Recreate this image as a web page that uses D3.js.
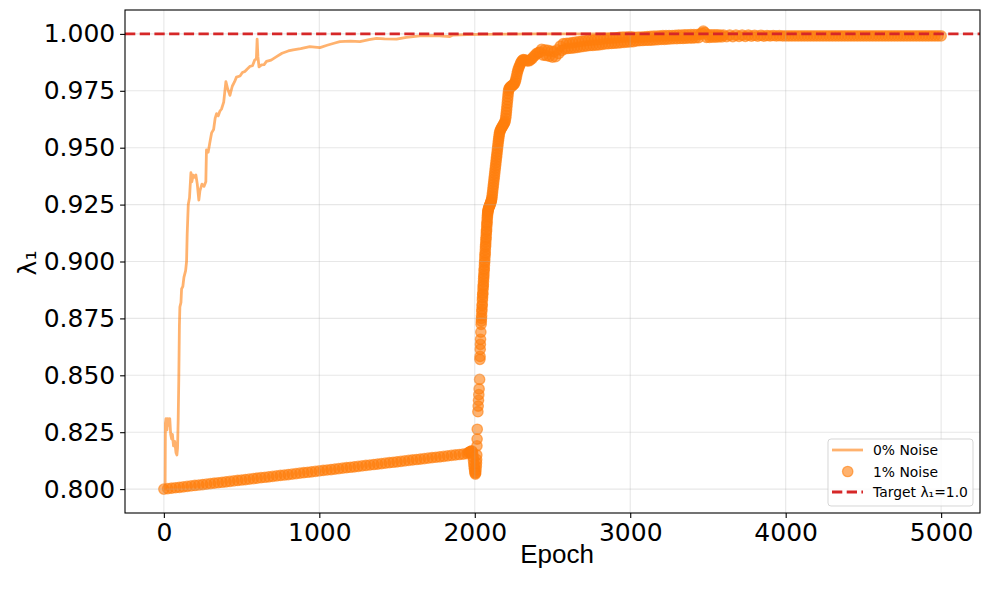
<!DOCTYPE html>
<html>
<head>
<meta charset="utf-8">
<script src="https://cdnjs.cloudflare.com/ajax/libs/d3/7.8.5/d3.min.js"></script>
<style>
    body { margin: 0; background: #ffffff; }
    .axis text { font-family: "DejaVu Sans", sans-serif; font-size: 25px; fill: #000; }
    .axis line { stroke: #000; stroke-width: 1.1px; }
    .grid line { stroke: #b0b0b0; stroke-opacity: 0.3; stroke-width: 1.1px; }
    .legend text { font-family: "DejaVu Sans", sans-serif; font-size: 13.9px; fill: #000; }
</style>
</head>
<body>
<div id="vis"></div>
<script>
// 0% noise run, drawn as a line
var cleanEpochs = [0, 8, 10, 14, 20, 25, 32, 38, 44, 50, 55, 62, 70, 78, 84, 88, 92, 96, 100, 103,
    110, 114, 122, 129, 140, 146, 150, 157, 165, 174, 180, 188, 196, 206, 215, 225, 232, 245, 258, 270,
    274, 285, 295, 307, 320, 330, 339, 350, 360, 371, 385, 399, 410, 425, 440, 455, 467, 490, 505, 521,
    535, 553, 570, 585, 595, 600, 605, 612, 628, 645, 660, 690, 725, 760, 800, 832, 880, 939, 970, 1004,
    1050, 1100, 1132, 1200, 1261, 1320, 1368, 1420, 1497, 1560, 1647, 1750, 1840, 1859, 1950, 2050, 2200, 2400, 5000];
var cleanLambda = [0.800, 0.800, 0.829, 0.831, 0.826, 0.831, 0.828, 0.831, 0.824, 0.822, 0.824, 0.819, 0.821, 0.816, 0.815, 0.818, 0.830, 0.848, 0.872, 0.880,
    0.882, 0.888, 0.889, 0.893, 0.896, 0.900, 0.912, 0.925, 0.928, 0.939, 0.935, 0.938, 0.937, 0.938, 0.934, 0.927, 0.931, 0.934, 0.933, 0.935,
    0.949, 0.948, 0.952, 0.9565, 0.958, 0.963, 0.965, 0.964, 0.966, 0.967, 0.970, 0.979, 0.976, 0.973, 0.977, 0.979, 0.981, 0.9815, 0.983, 0.9835,
    0.9845, 0.9857, 0.986, 0.9886, 0.989, 0.9977, 0.990, 0.9855, 0.9864, 0.9865, 0.9879, 0.9885, 0.990, 0.9915, 0.9925, 0.993, 0.9935, 0.9944, 0.9942, 0.994,
    0.995, 0.996, 0.9966, 0.9968, 0.9966, 0.9975, 0.998, 0.9978, 0.9977, 0.9985, 0.9991, 0.9993, 0.9988, 0.9995, 0.9997, 0.9998, 0.9999, 1.000, 1.000];

// 1% noise run, drawn as a scatter, read in three stretches
var noisyEarlyEpochs = d3.range(0, 1951, 25);
var noisyEarlyLambda = [
    0.8000, 0.8002, 0.8004, 0.8006, 0.8008, 0.8010, 0.8012, 0.8014, 0.8016, 0.8018,
    0.8020, 0.8022, 0.8024, 0.8026, 0.8028, 0.8030, 0.8032, 0.8034, 0.8036, 0.8038,
    0.8040, 0.8042, 0.8044, 0.8046, 0.8048, 0.8050, 0.8052, 0.8054, 0.8056, 0.8058,
    0.8060, 0.8062, 0.8064, 0.8066, 0.8068, 0.8070, 0.8072, 0.8074, 0.8076, 0.8078,
    0.8080, 0.8082, 0.8084, 0.8086, 0.8088, 0.8090, 0.8092, 0.8094, 0.8096, 0.8098,
    0.8100, 0.8102, 0.8104, 0.8106, 0.8108, 0.8110, 0.8112, 0.8114, 0.8116, 0.8118,
    0.8120, 0.8122, 0.8124, 0.8126, 0.8128, 0.8130, 0.8132, 0.8134, 0.8136, 0.8138,
    0.8140, 0.8142, 0.8144, 0.8146, 0.8148, 0.8150, 0.8152, 0.8154, 0.8156];

// the jump around epoch 2000
var noisyJumpEpochs = [1960, 1965, 1970, 1975, 1980, 1984, 1987, 1990, 1992, 1994,
        1996, 1998, 2000, 2002, 2004, 2006, 2008, 2010, 2011, 2012, 2013,
        2014, 2015, 2016, 2020, 2022, 2024, 2026, 2028, 2031, 2033, 2034, 2035, 2036, 2037, 2039]
    .concat(d3.range(2041, 2087), d3.range(2088, 2161, 2), [
        2164, 2168, 2172, 2176, 2180, 2184, 2188, 2192, 2196, 2199,
        2201, 2203, 2205, 2207, 2209, 2211, 2213, 2215, 2217, 2220,
        2224, 2228, 2232, 2236, 2240, 2245, 2250, 2255, 2260, 2264,
        2268, 2272, 2276, 2280, 2285, 2290, 2295, 2300, 2306, 2312,
        2320, 2330, 2340, 2350, 2360, 2370, 2380, 2390, 2400, 2410, 2420]);
var noisyJumpLambda = [
    0.8160, 0.8162, 0.8164, 0.8166, 0.8168, 0.8165, 0.8155, 0.8140, 0.8125, 0.8110,
    0.8098, 0.8088, 0.8078, 0.8070, 0.8066, 0.8072, 0.8085, 0.8100, 0.8115, 0.8130, 0.8150,
    0.8190, 0.8220, 0.8263, 0.8340, 0.8365, 0.8390, 0.8415, 0.8440, 0.8482, 0.8570, 0.8583, 0.8614, 0.8636, 0.8658, 0.8690,
    // 2041 - 2086
    0.8724, 0.8738, 0.8750, 0.8762, 0.8780, 0.8790, 0.8805, 0.8812, 0.8830, 0.8842,
    0.8855, 0.8862, 0.8878, 0.8890, 0.8898, 0.8912, 0.8925, 0.8935, 0.8946, 0.8960,
    0.8968, 0.8982, 0.8995, 0.9004, 0.9018, 0.9030, 0.9038, 0.9052, 0.9065, 0.9074,
    0.9086, 0.9098, 0.9106, 0.9120, 0.9132, 0.9140, 0.9154, 0.9165, 0.9172, 0.9185,
    0.9196, 0.9204, 0.9212, 0.9218, 0.9222, 0.9226,
    // 2088 - 2160
    0.9232, 0.9236, 0.9240, 0.9243, 0.9246, 0.9250, 0.9254, 0.9258, 0.9262, 0.9266,
    0.9272, 0.9280, 0.9290, 0.9302, 0.9314, 0.9326, 0.9338, 0.9350, 0.9362, 0.9374,
    0.9386, 0.9398, 0.9410, 0.9422, 0.9434, 0.9446, 0.9458, 0.9470, 0.9482, 0.9494,
    0.9506, 0.9518, 0.9530, 0.9540, 0.9550, 0.9560, 0.9568,
    // 2164 - 2420
    0.9576, 0.9582, 0.9587, 0.9591, 0.9596, 0.9601, 0.9606, 0.9611, 0.9618, 0.9630,
    0.9642, 0.9655, 0.9668, 0.9682, 0.9696, 0.9710, 0.9724, 0.9738, 0.9750, 0.9758,
    0.9763, 0.9766, 0.9768, 0.9770, 0.9772, 0.9775, 0.9778, 0.9782, 0.9790, 0.9800,
    0.9812, 0.9825, 0.9836, 0.9846, 0.9855, 0.9863, 0.9871, 0.9878, 0.9884, 0.9887,
    0.9886, 0.9884, 0.9881, 0.9882, 0.9887, 0.9893, 0.9901, 0.9908, 0.9915, 0.9918, 0.9920];

// the plateau, every 10 epochs up to 3600 then every 20
var noisyLateEpochs = d3.range(2430, 3601, 10).concat(d3.range(3620, 5001, 20));
var noisyLateLambda = [
    0.9932, 0.9907, 0.9930, 0.9905, 0.9928, 0.9902, 0.9924, 0.9898, 0.9922, 0.9900,
    0.9930, 0.9914, 0.9946, 0.9928, 0.9957, 0.9934, 0.9959, 0.9936, 0.9960, 0.9937,
    0.9962, 0.9939, 0.9964, 0.9941, 0.9966, 0.9943, 0.9968, 0.9945, 0.9970, 0.9947,
    0.9972, 0.9949, 0.9973, 0.9950, 0.9974, 0.9951, 0.9975, 0.9952, 0.9976, 0.9954,
    0.9979, 0.9956, 0.9980, 0.9957, 0.9981, 0.9958, 0.9982, 0.9959, 0.9983, 0.9960,
    0.9985, 0.9962, 0.9986, 0.9963, 0.9986, 0.9964, 0.9987, 0.9965, 0.9987, 0.9966,
    0.9985, 0.9969, 0.9986, 0.9970, 0.9986, 0.9971, 0.9987, 0.9972, 0.9988, 0.9972,
    0.9989, 0.9973, 0.9990, 0.9974, 0.9990, 0.9975, 0.9991, 0.9976, 0.9992, 0.9976,
    0.9992, 0.9977, 0.9993, 0.9978, 0.9993, 0.9979, 0.9994, 0.9979, 0.9995, 0.9980,
    0.9995, 0.9980, 0.9996, 0.9981, 0.9996, 0.9982, 0.9997, 0.9982, 0.9997, 0.9983,
    0.9997, 0.9984, 0.9998, 1.0004, 1.0012, 1.0006, 0.9985, 0.9996, 0.9985, 0.9996,
    0.9986, 0.9996, 0.9986, 0.9996, 0.9987, 0.9995, 0.9987, 0.9995,
    // 3620 - 5000
    0.9988, 0.9995, 0.9988, 0.9995, 0.9989, 0.9995, 0.9989, 0.9995, 0.9990, 0.9994,
    0.9990, 0.9994, 0.9990, 0.9993, 0.9991, 0.9993, 0.9991, 0.9992, 0.9991, 0.9991,
    0.9991, 0.9991, 0.9991, 0.9991, 0.9991, 0.9991, 0.9991, 0.9991, 0.9991, 0.9991,
    0.9991, 0.9991, 0.9991, 0.9991, 0.9991, 0.9991, 0.9991, 0.9991, 0.9991, 0.9991,
    0.9991, 0.9991, 0.9991, 0.9991, 0.9991, 0.9991, 0.9991, 0.9991, 0.9991, 0.9991,
    0.9991, 0.9991, 0.9991, 0.9991, 0.9991, 0.9991, 0.9991, 0.9991, 0.9991, 0.9991,
    0.9991, 0.9991, 0.9991, 0.9991, 0.9991, 0.9991, 0.9991, 0.9991, 0.9991, 0.9991];

var targetLambda = 1.0;
var xTicks = [0, 1000, 2000, 3000, 4000, 5000];
var yTicks = [0.800, 0.825, 0.850, 0.875, 0.900, 0.925, 0.950, 0.975, 1.000];
var legendLabels = ["0% Noise", "1% Noise", "Target \u03bb\u2081=1.0"];

var orange = "#ff7f0e",
    red = "#d62728";

// Setting defaults
var margin = {top: 10, right: 9, bottom: 77, left: 125},
    width = 989,
    height = 590,
    drawWidth = width - margin.left - margin.right,
    drawHeight = height - margin.top - margin.bottom;

var cleanData = cleanEpochs.map(function(e, i) {
    return {epoch: e, lambda: cleanLambda[i]};
});

var noisyData = [];
[[noisyEarlyEpochs, noisyEarlyLambda], [noisyJumpEpochs, noisyJumpLambda], [noisyLateEpochs, noisyLateLambda]]
    .forEach(function(part) {
        part[0].forEach(function(e, i) {
            if (part[1][i] !== undefined) {
                noisyData.push({epoch: e, lambda: part[1][i]});
            }
        });
    });

var svg = d3.select("#vis").append("svg")
    .attr("width", width)
    .attr("height", height)
    .append("g")
    .attr("transform", "translate(" + margin.left + "," + margin.top + ")");

var x = d3.scaleLinear()
    .domain([-250, 5250])
    .range([0, drawWidth]);

var y = d3.scaleLinear()
    .domain([0.7895, 1.0105])
    .range([drawHeight, 0]);

svg.append("defs").append("clipPath")
    .attr("id", "plot-clip")
    .append("rect")
    .attr("width", drawWidth)
    .attr("height", drawHeight);

var plot = svg.append("g").attr("clip-path", "url(#plot-clip)");

// scatter sits under the grid, like matplotlib collections
plot.append("g")
    .selectAll("circle")
    .data(noisyData)
    .enter()
    .append("circle")
    .attr("cx", function(d) { return x(d.epoch); })
    .attr("cy", function(d) { return y(d.lambda); })
    .attr("r", 5.2)
    .style("fill", orange)
    .style("fill-opacity", 0.6)
    .style("stroke", orange)
    .style("stroke-opacity", 0.6)
    .style("stroke-width", 1.3);

var grid = plot.append("g").attr("class", "grid");
grid.selectAll(".gx")
    .data(xTicks)
    .enter()
    .append("line")
    .attr("x1", function(d) { return x(d); })
    .attr("x2", function(d) { return x(d); })
    .attr("y1", 0)
    .attr("y2", drawHeight);
grid.selectAll(".gy")
    .data(yTicks)
    .enter()
    .append("line")
    .attr("x1", 0)
    .attr("x2", drawWidth)
    .attr("y1", function(d) { return y(d); })
    .attr("y2", function(d) { return y(d); });

var line = d3.line()
    .x(function(d) { return x(d.epoch); })
    .y(function(d) { return y(d.lambda); });

plot.append("path")
    .datum(cleanData)
    .attr("d", line)
    .style("fill", "none")
    .style("stroke", orange)
    .style("stroke-opacity", 0.6)
    .style("stroke-width", 2.78)
    .style("stroke-linejoin", "round");

plot.append("line")
    .attr("x1", 0)
    .attr("x2", drawWidth)
    .attr("y1", y(targetLambda))
    .attr("y2", y(targetLambda))
    .style("stroke", red)
    .style("stroke-width", 2.78)
    .style("stroke-dasharray", "10.3,4.4");

var xAxis = d3.axisBottom(x)
    .tickValues(xTicks)
    .tickFormat(d3.format("d"))
    .tickSize(4.9)
    .tickPadding(4.9);

var yAxis = d3.axisLeft(y)
    .tickValues(yTicks)
    .tickFormat(d3.format(".3f"))
    .tickSize(4.9)
    .tickPadding(4.9);

var gx = svg.append("g")
    .attr("class", "x axis")
    .attr("transform", "translate(0," + drawHeight + ")")
    .call(xAxis);
gx.select(".domain").remove();
gx.selectAll("text").attr("font-size", null).attr("font-family", null);

var gy = svg.append("g")
    .attr("class", "y axis")
    .call(yAxis);
gy.select(".domain").remove();
gy.selectAll("text").attr("font-size", null).attr("font-family", null);

// spines
svg.append("rect")
    .attr("width", drawWidth)
    .attr("height", drawHeight)
    .style("fill", "none")
    .style("stroke", "#000")
    .style("stroke-width", 1.1);

svg.append("text")
    .attr("x", 557 - margin.left)
    .attr("y", 563 - margin.top)
    .attr("text-anchor", "middle")
    .style("font-family", "'Liberation Sans', Arial, sans-serif")
    .style("font-size", "26px")
    .text("Epoch");

svg.append("text")
    .attr("transform", "translate(" + (36 - margin.left) + "," + (263 - margin.top) + ") rotate(-90)")
    .attr("text-anchor", "middle")
    .style("font-family", "'DejaVu Sans', sans-serif")
    .style("font-size", "25px")
    .text("\u03bb\u2081");

// legend, lower right
var legend = svg.append("g")
    .attr("class", "legend")
    .attr("transform", "translate(" + (828 - margin.left) + "," + (439 - margin.top) + ")");

legend.append("rect")
    .attr("width", 145)
    .attr("height", 67)
    .attr("rx", 3)
    .style("fill", "#fff")
    .style("fill-opacity", 0.8)
    .style("stroke", "#cccccc")
    .style("stroke-opacity", 0.8)
    .style("stroke-width", 1);

var rowY = [11, 32.5, 53];

legend.append("line")
    .attr("x1", 4).attr("x2", 35)
    .attr("y1", rowY[0]).attr("y2", rowY[0])
    .style("stroke", orange)
    .style("stroke-opacity", 0.6)
    .style("stroke-width", 2.78);

legend.append("circle")
    .attr("cx", 19.7)
    .attr("cy", rowY[1])
    .attr("r", 5.2)
    .style("fill", orange)
    .style("fill-opacity", 0.6)
    .style("stroke", orange)
    .style("stroke-opacity", 0.6)
    .style("stroke-width", 1.3);

legend.append("line")
    .attr("x1", 4).attr("x2", 35)
    .attr("y1", rowY[2]).attr("y2", rowY[2])
    .style("stroke", red)
    .style("stroke-width", 2.78)
    .style("stroke-dasharray", "10.3,4.4");

legend.selectAll(".label")
    .data(legendLabels)
    .enter()
    .append("text")
    .attr("class", "label")
    .attr("x", 45)
    .attr("y", function(d, i) { return rowY[i]; })
    .attr("dy", "0.36em")
    .text(function(d) { return d; });
</script>
</body>
</html>
